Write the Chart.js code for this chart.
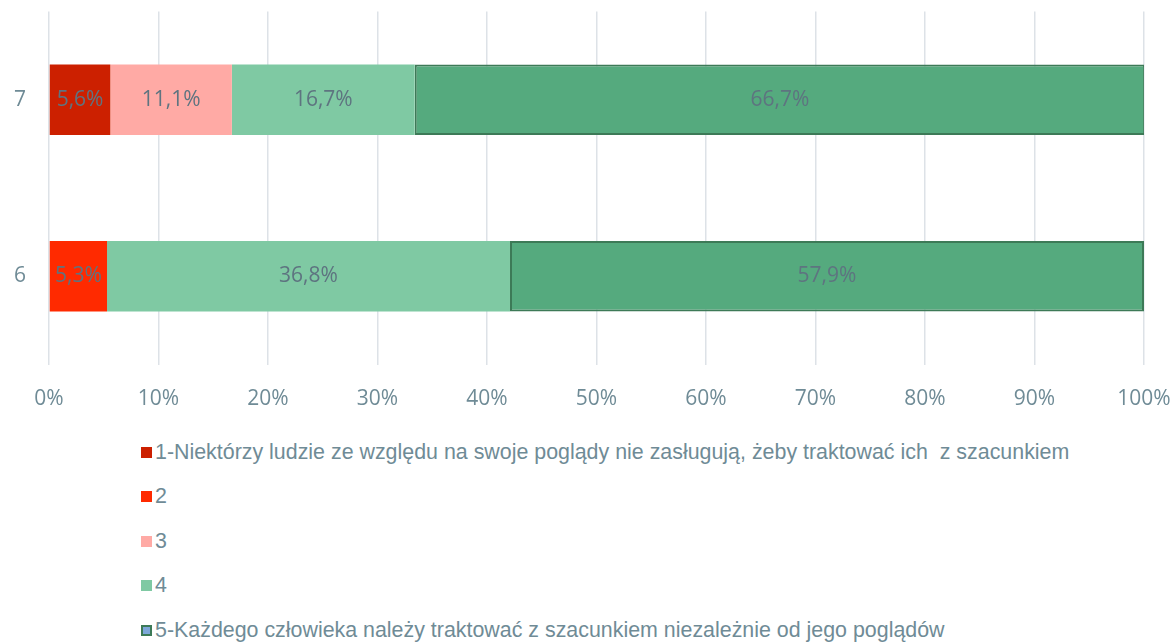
<!DOCTYPE html>
<html>
<head>
<meta charset="utf-8">
<script src="https://cdn.jsdelivr.net/npm/chart.js@4"></script>
<style>
  body { margin: 0; background: #fff; }
  #wrap { position: relative; width: 1173px; height: 420px; }
  #legend { position: absolute; left: 141px; top: 430px; font-family: "Liberation Sans", Arial, sans-serif; font-size: 21.4px; color: #6F8B96; white-space: pre; }
  #legend div { height: 44.5px; display: flex; align-items: center; }
  #legend span.box { display: inline-block; width: 11px; height: 11px; margin-right: 3px; box-sizing: border-box; }
</style>
</head>
<body>
<div id="wrap"><canvas id="wykres"></canvas></div>
<div id="legend"></div>
<script>
// dane
const kategorie = ['7', '6'];
const etykiety = [
  '1-Niektórzy ludzie ze względu na swoje poglądy nie zasługują, żeby traktować ich  z szacunkiem',
  '2',
  '3',
  '4',
  '5-Każdego człowieka należy traktować z szacunkiem niezależnie od jego poglądów'
];
const odp1 = [5.6, 0];
const odp2 = [0, 5.3];
const odp3 = [11.1, 0];
const odp4 = [16.7, 36.8];
const odp5 = [66.7, 57.9];
const kolory = ['#CC2000', '#FF2A00', '#FFAAA5', '#7FC9A3', '#55AA7E'];

const tekstKolor = '#6F8B96';

// etykiety w srodku slupkow
const etykietyDanych = {
  id: 'etykietyDanych',
  afterDatasetsDraw(chart) {
    const ctx = chart.ctx;
    ctx.save();
    ctx.font = '21px "Open Sans"';
    ctx.fillStyle = '#5E7480';
    ctx.textAlign = 'center';
    ctx.textBaseline = 'middle';
    chart.data.datasets.forEach((ds, i) => {
      chart.getDatasetMeta(i).data.forEach((bar, j) => {
        const v = ds.data[j];
        if (!v) return;
        const x = (bar.x + bar.base) / 2;
        ctx.fillText(v.toFixed(1).replace('.', ',') + '%', x, bar.y);
      });
    });
    ctx.restore();
  }
};

const wykres = document.getElementById('wykres');
const chart = new Chart(wykres, {
  type: 'bar',
  data: {
    labels: kategorie,
    datasets: [odp1, odp2, odp3, odp4, odp5].map((d, i) => ({
      label: etykiety[i],
      data: d,
      backgroundColor: kolory[i],
      borderColor: i === 4 ? '#3D7A57' : kolory[i],
      borderWidth: i === 4 ? 2 : 0,
      borderSkipped: false,
      barPercentage: 0.4,
      categoryPercentage: 1.0
    }))
  },
  options: {
    indexAxis: 'y',
    responsive: true,
    maintainAspectRatio: false,
    animation: false,
    layout: { padding: { top: 11.5, right: 29 } },
    plugins: {
      legend: { display: false },
      tooltip: { enabled: false }
    },
    scales: {
      x: {
        stacked: true,
        min: 0,
        max: 100,
        ticks: {
          stepSize: 10,
          padding: 22,
          color: tekstKolor,
          font: { family: 'Open Sans', size: 21 },
          callback: v => v + '%'
        },
        grid: { color: '#DDE2E7', lineWidth: 1.5, drawTicks: false },
        border: { display: false },
        afterFit: s => { s.height = 55.5; s.paddingLeft = 0; s.paddingRight = 0; }
      },
      y: {
        stacked: true,
        ticks: {
          padding: 15,
          color: tekstKolor,
          font: { family: 'Open Sans', size: 21 }
        },
        grid: { display: false },
        border: { display: false },
        afterFit: s => { s.width = 49; s.paddingTop = 0; s.paddingBottom = 0; }
      }
    }
  },
  plugins: [etykietyDanych]
});

// legenda pod wykresem
const legenda = document.getElementById('legend');
chart.data.datasets.forEach((ds, i) => {
  const wiersz = document.createElement('div');
  const box = document.createElement('span');
  box.className = 'box';
  box.style.background = i === 4 ? '#7DA7D9' : ds.backgroundColor;
  if (i === 4) box.style.border = '2px solid #3D7A57';
  wiersz.appendChild(box);
  const t = document.createElement('span');
  t.textContent = ds.label;
  wiersz.appendChild(t);
  legenda.appendChild(wiersz);
});
</script>
</body>
</html>
